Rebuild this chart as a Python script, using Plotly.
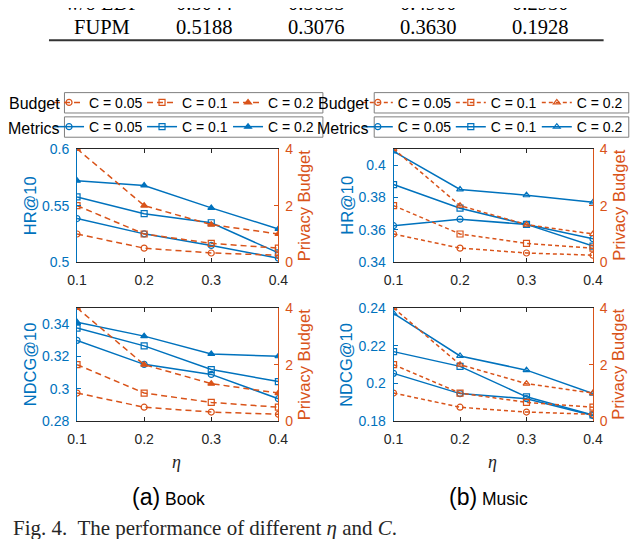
import plotly.graph_objects as go

# ------------------------------------------------------------
# Data
# ------------------------------------------------------------

# the page keeps the browser's 8px body margin, so the figure is drawn
# 16px smaller than the window and every position below is given in
# window pixels, then shifted by that margin
PAGE_W, PAGE_H = 640, 547
PAD = 8
W, H = PAGE_W - 2 * PAD, PAGE_H - 2 * PAD

BLUE = "#0072BD"
ORANGE = "#D95319"
DARK = "#262626"
SANS = "Liberation Sans"
SERIF = "Liberation Serif"

eta = [0.1, 0.2, 0.3, 0.4]
c_labels = ["C = 0.05", "C = 0.1", "C = 0.2"]

# privacy budget (same in both datasets)
budget_c005 = [1.0, 0.5, 0.33, 0.25]
budget_c01 = [2.0, 1.0, 0.67, 0.5]
budget_c02 = [4.0, 2.0, 1.33, 1.0]

# Book
book_hr_c005 = [0.5386, 0.5251, 0.5149, 0.5037]
book_hr_c01 = [0.5577, 0.5429, 0.5349, 0.5083]
book_hr_c02 = [0.5720, 0.5677, 0.5480, 0.5294]
book_ndcg_c005 = [0.3300, 0.3152, 0.3090, 0.2940]
book_ndcg_c01 = [0.3376, 0.3266, 0.3120, 0.3046]
book_ndcg_c02 = [0.3412, 0.3326, 0.3216, 0.3202]

# Music
music_hr_c005 = [0.3626, 0.3666, 0.3634, 0.3546]
music_hr_c01 = [0.3880, 0.3734, 0.3634, 0.3500]
music_hr_c02 = [0.4084, 0.3850, 0.3814, 0.3770]
music_ndcg_c005 = [0.2054, 0.1947, 0.1920, 0.1831]
music_ndcg_c01 = [0.2169, 0.2091, 0.1930, 0.1834]
music_ndcg_c02 = [0.2371, 0.2146, 0.2071, 0.1947]

# table rows above the figure (cut off in the crop)
table_rows = [
    ["w/o LDP", "0.5044", "0.3035", "0.4900", "0.2930"],
    ["FUPM", "0.5188", "0.3076", "0.3630", "0.1928"],
]
table_col_x = [95, 200, 316, 432, 547]
table_row_y = [-5, 19]


def px(x):
    return (x - PAD) / W


def py(y):
    return 1 - (y - PAD) / H


fig = go.Figure()

panels = [
    dict(box=(69, 277, 145, 262), metric=[book_hr_c005, book_hr_c01, book_hr_c02],
         yr=[0.5, 0.6], yt=[0.5, 0.55, 0.6], ytext=["0.5", "0.55", "0.6"], title="HR@10",
         legends=("legend", "legend2"), sym=["circle-open", "square-open", "triangle-up"],
         dash="6px,4px"),
    dict(box=(396, 602, 145, 262), metric=[music_hr_c005, music_hr_c01, music_hr_c02],
         yr=[0.34, 0.41], yt=[0.34, 0.36, 0.38, 0.4], ytext=["0.34", "0.36", "0.38", "0.4"],
         title="HR@10", legends=("legend3", "legend4"),
         sym=["circle-open", "square-open", "triangle-up-open"], dash="4px,3px"),
    dict(box=(69, 277, 309, 426), metric=[book_ndcg_c005, book_ndcg_c01, book_ndcg_c02],
         yr=[0.28, 0.35], yt=[0.28, 0.3, 0.32, 0.34], ytext=["0.28", "0.3", "0.32", "0.34"],
         title="NDCG@10", legends=None, sym=["circle-open", "square-open", "triangle-up"],
         dash="6px,4px"),
    dict(box=(396, 602, 309, 426), metric=[music_ndcg_c005, music_ndcg_c01, music_ndcg_c02],
         yr=[0.18, 0.24], yt=[0.18, 0.2, 0.22, 0.24], ytext=["0.18", "0.2", "0.22", "0.24"],
         title="NDCG@10", legends=None,
         sym=["circle-open", "square-open", "triangle-up-open"], dash="4px,3px"),
]

budgets = [budget_c005, budget_c01, budget_c02]
legend_widths = [48, 41, 46]

annotations = []

for i, p in enumerate(panels):
    k = i + 1
    xa = "x" if k == 1 else f"x{k}"
    yl = "y" if k == 1 else f"y{2 * k - 1}"
    yr = f"y{2 * k}"
    x0, x1, y0, y1 = p["box"]

    for j in range(3):
        fig.add_trace(go.Scatter(
            x=eta, y=p["metric"][j], name=c_labels[j], mode="lines+markers",
            xaxis=xa, yaxis=yl,
            line=dict(color=BLUE, width=1.5),
            marker=dict(symbol=p["sym"][j], size=6, color=BLUE, line=dict(width=1.2, color=BLUE)),
            showlegend=p["legends"] is not None,
            legend=p["legends"][1] if p["legends"] else None,
            legendwidth=legend_widths[j],
        ))
    for j in range(3):
        fig.add_trace(go.Scatter(
            x=eta, y=budgets[j], name=c_labels[j], mode="lines+markers",
            xaxis=xa, yaxis=yr,
            line=dict(color=ORANGE, width=1.5, dash=p["dash"]),
            marker=dict(symbol=p["sym"][j], size=6, color=ORANGE, line=dict(width=1.2, color=ORANGE)),
            showlegend=p["legends"] is not None,
            legend=p["legends"][0] if p["legends"] else None,
            legendwidth=legend_widths[j],
        ))

    xkey = "xaxis" if k == 1 else f"xaxis{k}"
    ylkey = "yaxis" if k == 1 else f"yaxis{2 * k - 1}"
    yrkey = f"yaxis{2 * k}"

    fig.update_layout({
        xkey: dict(domain=[px(x0), px(x1)], anchor=yl, range=[0.1, 0.4],
                   tickvals=eta, ticktext=["0.1", "0.2", "0.3", "0.4"],
                   showline=True, linecolor=DARK, linewidth=1, mirror="ticks",
                   ticks="inside", ticklen=4, tickcolor=DARK, showgrid=False, zeroline=False,
                   tickfont=dict(family=SANS, size=14, color=DARK), ticklabelstandoff=5),
        ylkey: dict(domain=[py(y1), py(y0)], anchor=xa, range=p["yr"],
                    tickvals=p["yt"], ticktext=p["ytext"],
                    showline=True, linecolor=BLUE, linewidth=1,
                    ticks="inside", ticklen=4, tickcolor=BLUE, showgrid=False, zeroline=False,
                    tickfont=dict(family=SANS, size=14, color=BLUE), ticklabelstandoff=4),
        yrkey: dict(overlaying=yl, side="right", anchor=xa, range=[0, 4],
                    tickvals=[0, 2, 4], ticktext=["0", "2", "4"],
                    showline=True, linecolor=ORANGE, linewidth=1,
                    ticks="inside", ticklen=4, tickcolor=ORANGE, showgrid=False, zeroline=False,
                    tickfont=dict(family=SANS, size=14, color=ORANGE), ticklabelstandoff=3),
    })

    cy = (y0 + y1) / 2
    annotations.append(dict(text=p["title"], x=px(x0 - 49), y=py(cy), xref="paper", yref="paper",
                            textangle=-90, showarrow=False, xanchor="center", yanchor="middle",
                            font=dict(family=SANS, size=16.5, color=BLUE)))
    annotations.append(dict(text="Privacy Budget", x=px(x1 + 26), y=py(cy), xref="paper", yref="paper",
                            textangle=-90, showarrow=False, xanchor="center", yanchor="middle",
                            font=dict(family=SANS, size=16.5, color=ORANGE)))

# legend boxes and labels
shapes = []
legend_layout = {}
for lx0, lx1, lright, names in [(56, 323, 319, ("legend", "legend2")),
                                (376, 639, 638, ("legend3", "legend4"))]:
    for (name, ty0, ty1, label) in [(names[0], 87, 108, "Budget"), (names[1], 112, 133, "Metrics")]:
        shapes.append(dict(type="rect", xref="paper", yref="paper",
                           x0=px(lx0), x1=px(lx1), y0=py(ty1), y1=py(ty0),
                           line=dict(color="#7f7f7f", width=1), fillcolor="white", layer="below"))
        legend_layout[name] = dict(orientation="h", x=px(lright), xanchor="right",
                                   y=py((ty0 + ty1) / 2), yanchor="middle",
                                   bgcolor="rgba(0,0,0,0)", borderwidth=0, itemwidth=30,
                                   font=dict(family=SANS, size=14, color="black"))
        annotations.append(dict(text=label, x=px(lx0 - 3), y=py((ty0 + ty1) / 2 + 1),
                                xref="paper", yref="paper", showarrow=False,
                                xanchor="right", yanchor="middle",
                                font=dict(family=SANS, size=16, color="black")))

# table remnant at the top
for row, ty in zip(table_rows, table_row_y):
    for txt, tx in zip(row, table_col_x):
        annotations.append(dict(text=txt, x=px(tx), y=py(ty), xref="paper", yref="paper",
                                showarrow=False, xanchor="center", yanchor="middle",
                                font=dict(family=SERIF, size=20.5, color="black")))
shapes.append(dict(type="line", xref="paper", yref="paper", x0=px(40), x1=px(613),
                   y0=py(33), y1=py(33), line=dict(color="#333333", width=2)))

# eta labels and subcaptions
for cx in [172, 498]:
    annotations.append(dict(text="<i>η</i>", x=px(cx), y=py(468), xref="paper", yref="paper",
                            showarrow=False, xanchor="center", yanchor="middle",
                            font=dict(family=SERIF, size=18, color=DARK)))
for cx, tag, name in [(163, "(a)", "Book"), (494, "(b)", "Music")]:
    annotations.append(dict(text=f'<span style="font-size:23px">{tag}</span> {name}',
                            x=px(cx), y=py(504), xref="paper", yref="paper",
                            showarrow=False, xanchor="center", yanchor="middle",
                            font=dict(family=SANS, size=17.5, color="black")))

annotations.append(dict(text="Fig. 4.  The performance of different <i>η</i> and <i>C</i>.",
                        x=px(1), y=py(536), xref="paper", yref="paper", showarrow=False,
                        xanchor="left", yanchor="middle",
                        font=dict(family=SERIF, size=21, color=DARK)))

fig.update_layout(
    width=W, height=H,
    margin=dict(l=0, r=0, t=0, b=0),
    paper_bgcolor="white", plot_bgcolor="white",
    annotations=annotations, shapes=shapes,
    **legend_layout,
)

fig.write_html("out.html", config={"displayModeBar": False})
